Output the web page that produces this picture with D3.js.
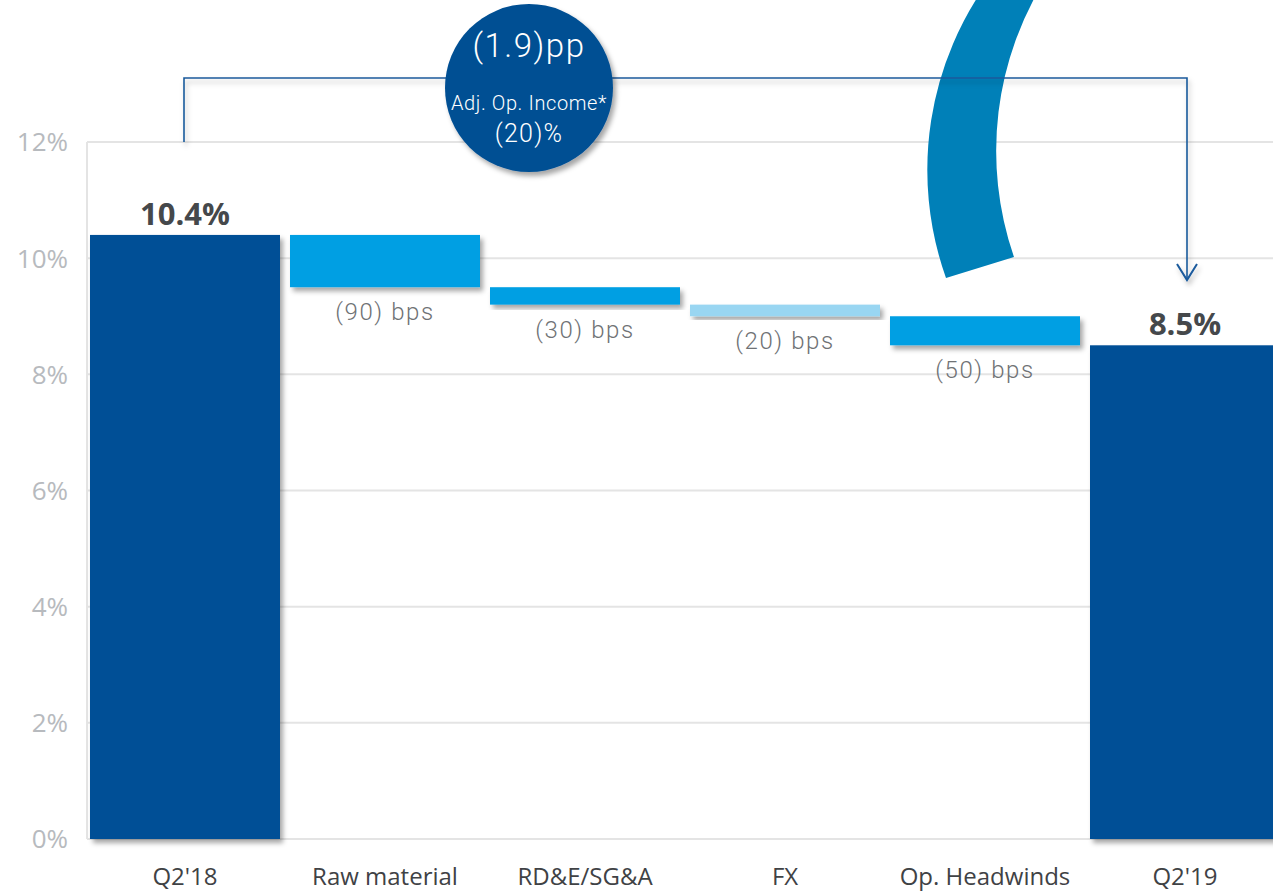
<!DOCTYPE html>
<html>
<head>
<meta charset="utf-8">
<script src="https://cdn.jsdelivr.net/npm/d3@7"></script>
<style>
  html, body { margin: 0; padding: 0; background: #fff; overflow: hidden; }
  svg { display: block; }
</style>
</head>
<body>
<svg id="chart" width="1273" height="892"></svg>
<script>
// Margin bridge: Q2'18 adjusted operating margin to Q2'19
const categories = ["Q2'18", "Raw material", "RD&E/SG&A", "FX", "Op. Headwinds", "Q2'19"];
const values = [10.4, -0.9, -0.3, -0.2, -0.5, 8.5];          // % for totals, pp for changes
const barKinds = ["total", "delta", "delta", "delta", "delta", "total"];
const valueLabels = ["10.4%", "(90) bps", "(30) bps", "(20) bps", "(50) bps", "8.5%"];
const yTicks = [0, 2, 4, 6, 8, 10, 12];
const bubbleLines = ["(1.9)pp", "Adj. Op. Income*", "(20)%"];

const W = 1273, H = 892;
const svg = d3.select("#chart");

const x = d3.scaleBand().domain(categories).range([85, 1285])
  .paddingInner(0.05).paddingOuter(0.025);
const y = d3.scaleLinear().domain([0, 12]).range([839, 142]);

// running bases for the waterfall
let running = 0;
const bars = categories.map((c, i) => {
  let lo, hi;
  if (barKinds[i] === "total") { lo = 0; hi = values[i]; running = values[i]; }
  else { hi = running; lo = running + values[i]; running = lo; }
  return { cat: c, kind: barKinds[i], lo, hi, label: valueLabels[i] };
});

const fillFor = d => d.kind === "total" ? "#005096" : (d.cat === "FX" ? "#99d6f2" : "#009fe3");
const techFont = "Roboto, 'Noto Sans', sans-serif";

const defs = svg.append("defs");
const sh = defs.append("filter").attr("id", "shadow")
  .attr("x", "-10%").attr("y", "-10%").attr("width", "130%").attr("height", "140%");
sh.append("feDropShadow").attr("dx", 3).attr("dy", 4).attr("stdDeviation", 2.5)
  .attr("flood-color", "#000").attr("flood-opacity", 0.35);
const sh2 = defs.append("filter").attr("id", "lineShadow")
  .attr("x", "-5%").attr("y", "-50%").attr("width", "110%").attr("height", "200%");
sh2.append("feDropShadow").attr("dx", 2).attr("dy", 4).attr("stdDeviation", 2.5)
  .attr("flood-color", "#000").attr("flood-opacity", 0.25);

// gridlines
svg.append("g").selectAll("line").data(yTicks).join("line")
  .attr("x1", 87).attr("x2", W)
  .attr("y1", d => y(d)).attr("y2", d => y(d))
  .attr("stroke", "#e4e4e4").attr("stroke-width", 2);
svg.append("line").attr("x1", 87).attr("x2", 87)
  .attr("y1", y(0)).attr("y2", y(12))
  .attr("stroke", "#e4e4e4").attr("stroke-width", 2);

// y tick labels
svg.append("g").selectAll("text").data(yTicks).join("text")
  .attr("x", 68).attr("y", d => y(d)).attr("dy", "0.36em")
  .attr("text-anchor", "end")
  .attr("font-family", "'Open Sans', sans-serif").attr("font-size", 26)
  .attr("fill", "#b7babe")
  .text(d => d + "%");

// decorative crescent
svg.append("path")
  .attr("d", "M 993 -25 A 322 322 0 0 0 946 278 L 1014 257 A 324.5 324.5 0 0 1 1048 -25 Z")
  .attr("fill", "#0080b8");

// bars
svg.append("g").selectAll("rect").data(bars).join("rect")
  .attr("x", d => x(d.cat))
  .attr("width", x.bandwidth())
  .attr("y", d => y(d.hi))
  .attr("height", d => y(d.lo) - y(d.hi))
  .attr("fill", fillFor)
  .attr("filter", "url(#shadow)");

// value labels: bold totals above, change labels under each floating bar
const totals = bars.filter(d => d.kind === "total");
const deltas = bars.filter(d => d.kind === "delta");
svg.append("g").selectAll("text").data(totals).join("text")
  .attr("x", d => x(d.cat) + x.bandwidth() / 2)
  .attr("y", d => y(d.hi) - 10)
  .attr("text-anchor", "middle")
  .attr("font-family", "'Open Sans', sans-serif").attr("font-weight", 700)
  .attr("font-size", 31).attr("fill", "#45484b")
  .text(d => d.label);
svg.append("g").selectAll("text").data(deltas).join("text")
  .attr("x", d => x(d.cat) + x.bandwidth() / 2)
  .attr("y", d => y(d.lo) + 33)
  .attr("text-anchor", "middle")
  .attr("font-family", techFont).attr("font-weight", 300)
  .attr("font-size", 24).attr("letter-spacing", 1.6)
  .attr("fill", "#6f7275")
  .text(d => d.label);

// category labels
svg.append("g").selectAll("text").data(categories).join("text")
  .attr("x", d => x(d) + x.bandwidth() / 2)
  .attr("y", 885)
  .attr("text-anchor", "middle")
  .attr("font-family", "'Open Sans', sans-serif").attr("font-size", 24)
  .attr("fill", "#3f4245")
  .text(d => d);

// bracket from Q2'18 to Q2'19 with arrow
const xL = x(categories[0]) + x.bandwidth() / 2 - 1;
const xR = x(categories[5]) + x.bandwidth() / 2 + 2;
const yTop = 78, yTip = 280;
const br = svg.append("g").attr("filter", "url(#lineShadow)")
  .attr("fill", "none").attr("stroke", "#1a5a9c").attr("stroke-width", 1.6);
br.append("path").attr("d", `M ${xL} ${y(12)} V ${yTop} H ${xR} V ${yTip}`);
br.append("path").attr("d", `M ${xR - 10} ${yTip - 16} L ${xR} ${yTip} L ${xR + 10} ${yTip - 16}`)
  .attr("stroke-width", 2);

// summary bubble
const bx = 529, by = 88, br2 = 84;
svg.append("circle").attr("cx", bx).attr("cy", by).attr("r", br2)
  .attr("fill", "#064f93").attr("filter", "url(#shadow)");
const bt = svg.append("g").attr("text-anchor", "middle").attr("fill", "#fff")
  .attr("font-family", techFont).attr("font-weight", 300);
bt.append("text").attr("x", bx).attr("y", 57).attr("font-size", 33).attr("letter-spacing", 1.5).text(bubbleLines[0]);
bt.append("text").attr("x", bx).attr("y", 110).attr("font-size", 20).attr("letter-spacing", 0.6).text(bubbleLines[1]);
bt.append("text").attr("x", bx).attr("y", 142).attr("font-size", 25).attr("letter-spacing", 1.2).text(bubbleLines[2]);
</script>
</body>
</html>
